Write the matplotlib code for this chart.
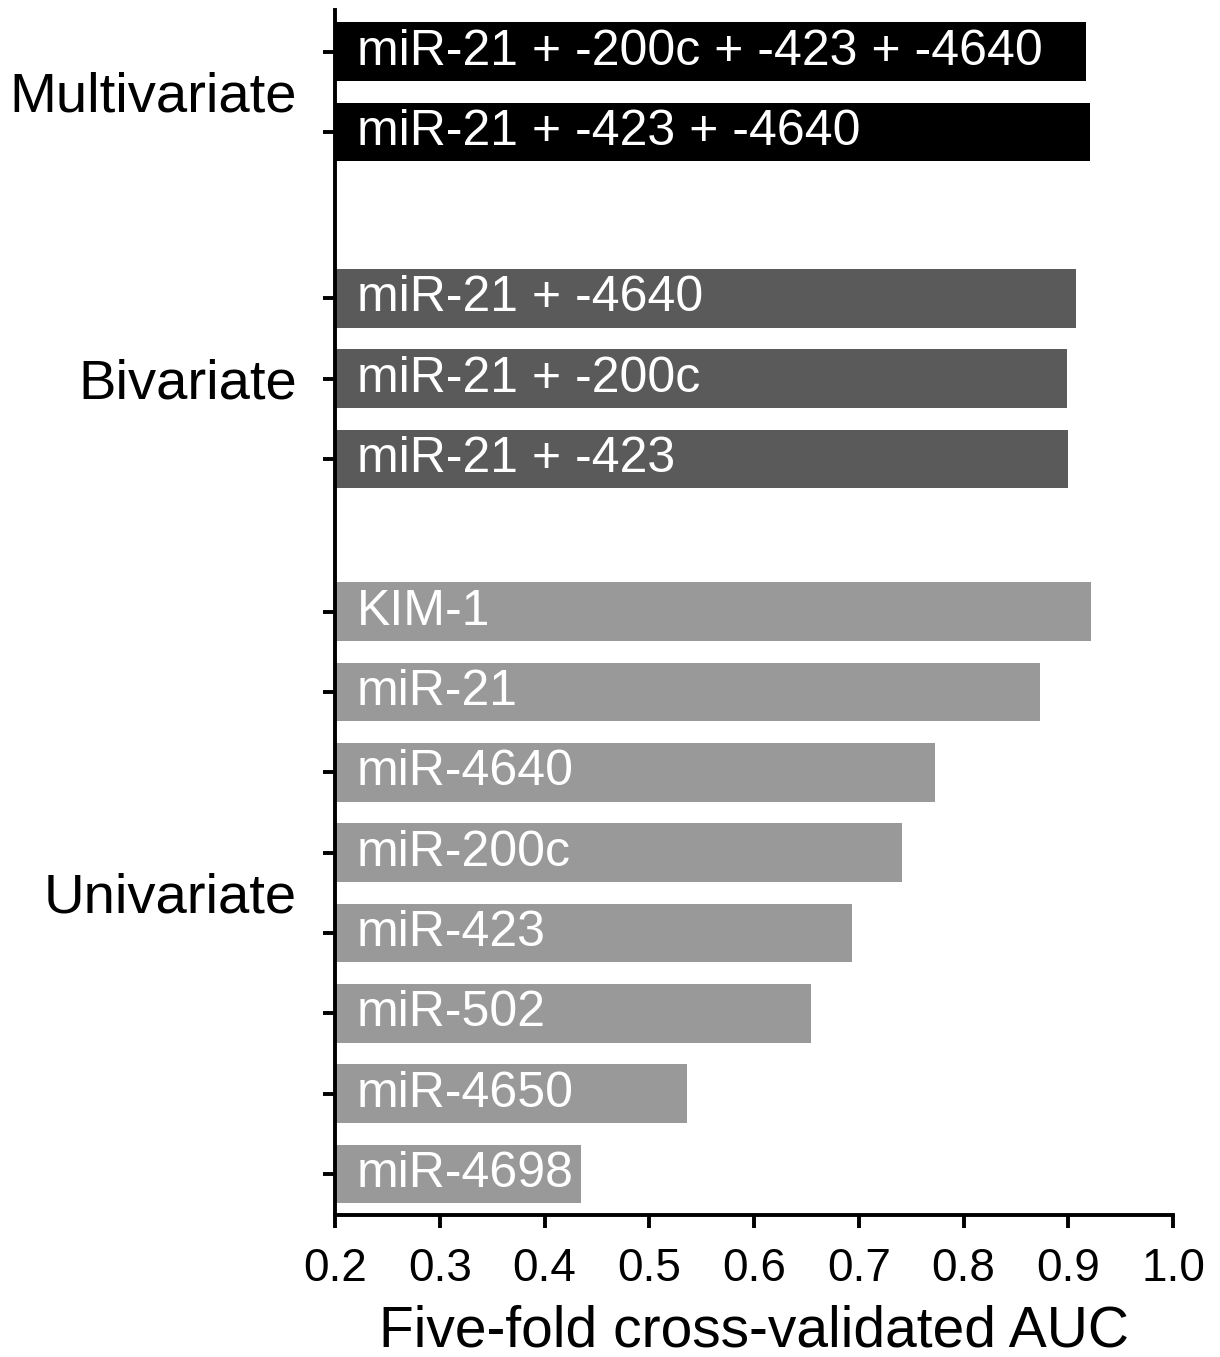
import matplotlib
matplotlib.use('Agg')
import matplotlib.pyplot as plt
from matplotlib.transforms import blended_transform_factory, offset_copy

plt.rcParams['font.family'] = ['Liberation Sans', 'DejaVu Sans']

# AUC values per model, grouped by number of predictors
groups = ['Multivariate', 'Bivariate', 'Univariate']
group_colors = ['#000000', '#5a5a5a', '#999999']

multi_labels = ['miR-21 + -200c + -423 + -4640', 'miR-21 + -423 + -4640']
multi_auc = [0.917, 0.921]

bi_labels = ['miR-21 + -4640', 'miR-21 + -200c', 'miR-21 + -423']
bi_auc = [0.907, 0.899, 0.900]

uni_labels = ['KIM-1', 'miR-21', 'miR-4640', 'miR-200c',
              'miR-423', 'miR-502', 'miR-4650', 'miR-4698']
uni_auc = [0.922, 0.873, 0.773, 0.741, 0.694, 0.654, 0.536, 0.435]

xticks = [0.2, 0.3, 0.4, 0.5, 0.6, 0.7, 0.8, 0.9, 1.0]

# spacing (in bar slots) before each group
group_gap = [0, 2.07, 1.9]

fig = plt.figure(figsize=(12.2, 13.57), dpi=100)
ax = fig.add_axes([0.2746, 0.1046, 0.6869, 0.8880])

base = 0.2
pos = 0
ticks = []
for name, color, gap, labels, vals in zip(groups, group_colors, group_gap,
                                          [multi_labels, bi_labels, uni_labels],
                                          [multi_auc, bi_auc, uni_auc]):
    start = pos + gap
    ys = [start + i for i in range(len(vals))]
    ax.barh(ys, [v - base for v in vals], left=base, height=0.73,
            color=color, edgecolor='none')
    for y, lab in zip(ys, labels):
        ax.text(base + 0.021, y, lab, color='white', fontsize=36,
                va='center', ha='left')
    trans = offset_copy(blended_transform_factory(ax.transAxes, ax.transData),
                        fig=fig, x=-38, y=0, units='dots')
    ax.text(0, (ys[0] + ys[-1]) / 2, name, transform=trans, fontsize=40.5,
            ha='right', va='center_baseline')
    ticks += ys
    pos = ys[-1]

ax.set_ylim(pos + 0.51, -0.52)
ax.set_xlim(0.2, 1.0)
ax.set_yticks(ticks)
ax.set_yticklabels([])
ax.set_xticks(xticks)
ax.set_xticklabels(['%.1f' % t for t in xticks], fontsize=33)
ax.set_xlabel('Five-fold cross-validated AUC', fontsize=41, labelpad=10)

for side in ['top', 'right']:
    ax.spines[side].set_visible(False)
for side in ['left', 'bottom']:
    ax.spines[side].set_linewidth(2.8)
ax.tick_params(axis='both', length=9, width=2.8, direction='out')
ax.tick_params(axis='x', pad=14)

plt.savefig('out.png', dpi=100)
